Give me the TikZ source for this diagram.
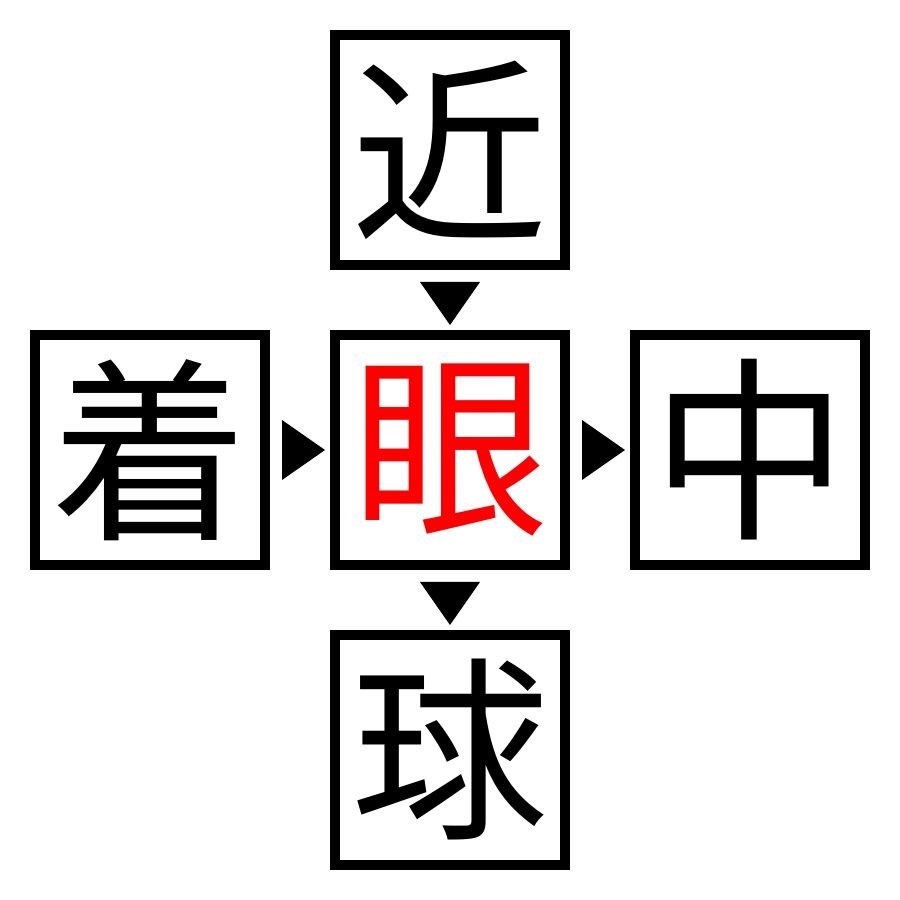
\documentclass[tikz,border=0pt]{standalone}
\usepackage{fontspec}
\newfontfamily\cjk{Noto Sans CJK JP}
\usetikzlibrary{calc}
\definecolor{focus red}{HTML}{FF0000}

\begin{document}
\begin{tikzpicture}
            \tikzset{charbox/.style={draw, line width=0.1cm, minimum size=2.3cm, inner sep=0pt, font={\cjk\fontsize{56}{56}\selectfont}}}
            \tikzset{pointer/.style={fill=black}}
            \useasboundingbox (0, 0) rectangle (9, 9);
            \node[charbox] (top) at (4.5, 7.5) {近};
            \node[charbox] (left) at (1.5, 4.5) {着};
            \node[charbox, text=focus red] (mid) at (4.5, 4.5) {眼};
            \node[charbox] (right) at (7.5, 4.5) {中};
            \node[charbox] (bottom) at (4.5, 1.5) {球};
            
            \fill[pointer] ($(top.south)+(-0.3, -0.12)$) -- ($(top.south)+(0.3, -0.12)$) -- ($(mid.north)+(0, 0.05)$) -- cycle;
            \fill[pointer] ($(mid.south)+(-0.3, -0.12)$) -- ($(mid.south)+(0.3, -0.12)$) -- ($(bottom.north)+(0, 0.05)$) -- cycle;
            \fill[pointer] ($(left.east)+(0.12, 0.3)$) -- ($(left.east)+(0.12, -0.3)$) -- ($(mid.west)+(-0.05, 0)$) -- cycle;
            \fill[pointer] ($(mid.east)+(0.12, 0.3)$) -- ($(mid.east)+(0.12, -0.3)$) -- ($(right.west)+(-0.05, 0)$) -- cycle;
        \end{tikzpicture}
\end{document}
